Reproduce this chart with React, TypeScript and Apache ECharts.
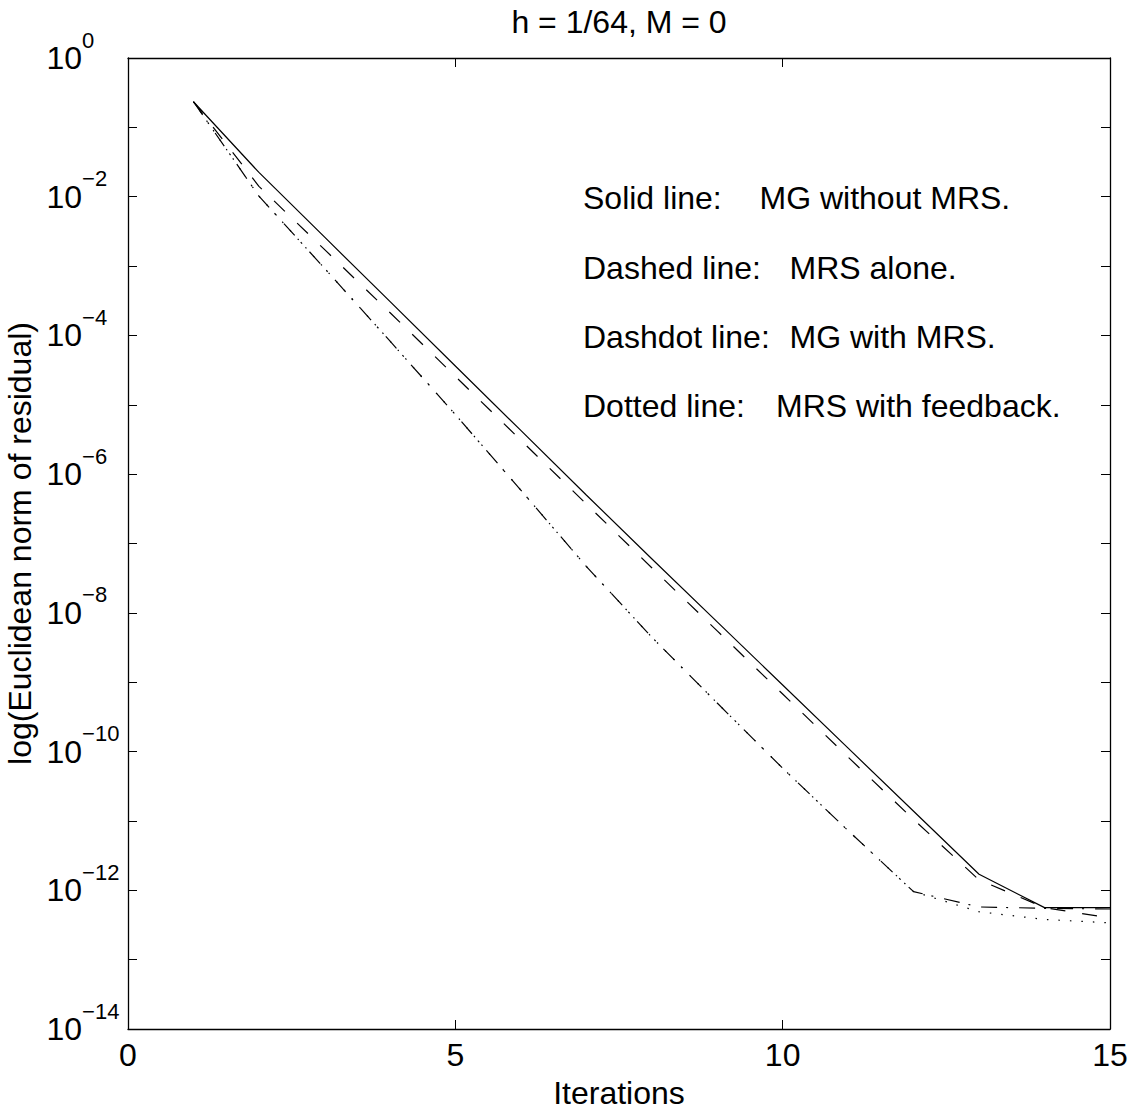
import React, { useEffect, useRef } from "react";
import * as echarts from "echarts";

// ---- Data ----
const iterations = [1, 2, 3, 4, 5, 6, 7, 8, 9, 10, 11, 12, 13, 14, 15];

// Solid line: MG without MRS.
const solidMG = [
  0.234, 2.24e-2, 2.63e-3, 3.09e-4, 3.63e-5, 4.27e-6, 5.01e-7, 6.03e-8,
  7.41e-9, 9.12e-10, 1.12e-10, 1.38e-11, 1.7e-12, 5.62e-13, 5.62e-13,
];
// Dashed line: MRS alone.
const dashedMRS = [
  0.234, 1.41e-2, 1.74e-3, 2.14e-4, 2.57e-5, 3.09e-6, 3.72e-7, 4.47e-8,
  5.5e-9, 6.76e-10, 8.32e-11, 1.05e-11, 1.41e-12, 5.62e-13, 3.98e-13,
];
// Dashdot line: MG with MRS.
const dashdotMGMRS = [
  0.234, 1.02e-2, 9.33e-4, 8.32e-5, 7.24e-6, 5.89e-7, 4.68e-8, 4.47e-9,
  5.01e-10, 5.75e-11, 7.24e-12, 9.55e-13, 5.75e-13, 5.5e-13, 5.37e-13,
];
// Dotted line: MRS with feedback.
const dottedFeedback = [
  0.234, 1.02e-2, 9.33e-4, 8.32e-5, 7.24e-6, 5.89e-7, 4.68e-8, 4.47e-9,
  5.01e-10, 5.75e-11, 7.24e-12, 9.55e-13, 4.9e-13, 3.8e-13, 3.39e-13,
];

const titleText = "h = 1/64, M = 0";
const xAxisName = "Iterations";
const yAxisName = "log(Euclidean norm of residual)";
const legendLabels = ["Solid line:", "Dashed line:", "Dashdot line:", "Dotted line:"];
const legendDescriptions = ["MG without MRS.", "MRS alone.", "MG with MRS.", "MRS with feedback."];

const FONT = '"Liberation Sans", Arial, Helvetica, sans-serif';
const FS = 32;
const SUP = 22;

const pairs = (ys: number[]) => iterations.map((x, i) => [x, ys[i]]);

export default function App() {
  const ref = useRef<HTMLDivElement>(null);

  useEffect(() => {
    if (!ref.current) return;
    const chart = echarts.init(ref.current, null, { renderer: "svg" });

    const gridLeft = 128;
    const gridTop = 58;
    const gridRight = 1110;
    const gridBottom = 1029;

    const axisLineStyle = { color: "#000", width: 1.3 };
    const tickStyle = { color: "#000", width: 1 };

    const legendRowsY = [198, 267.5, 337, 406];
    const legendDescX = [759.5, 789.5, 789.5, 776];

    const graphic: any[] = [];
    legendLabels.forEach((lab, i) => {
      graphic.push({
        type: "text",
        x: 583,
        y: legendRowsY[i],
        silent: true,
        style: {
          text: lab,
          fontSize: FS,
          fontFamily: FONT,
          fill: "#000",
          verticalAlign: "middle",
          align: "left",
        },
      });
      graphic.push({
        type: "text",
        x: legendDescX[i],
        y: legendRowsY[i],
        silent: true,
        style: {
          text: legendDescriptions[i],
          fontSize: FS,
          fontFamily: FONT,
          fill: "#000",
          verticalAlign: "middle",
          align: "left",
        },
      });
    });

    const lineSeries = (name: string, ys: number[], type: any) => ({
      name,
      type: "line",
      data: pairs(ys),
      symbol: "none",
      showSymbol: false,
      silent: true,
      xAxisIndex: 0,
      yAxisIndex: 0,
      lineStyle: { color: "#000", width: 1.2, type },
      z: 3,
    });

    const option: any = {
      animation: false,
      backgroundColor: "#fff",
      title: {
        text: titleText,
        left: (gridLeft + gridRight) / 2,
        textAlign: "center",
        top: 6,
        padding: 0,
        textStyle: { fontSize: FS, fontWeight: "normal", fontFamily: FONT, color: "#000" },
      },
      grid: {
        left: gridLeft,
        top: gridTop,
        right: 1136 - gridRight,
        bottom: 1110 - gridBottom,
        containLabel: false,
        outerBoundsMode: "none",
      },
      xAxis: [
        {
          type: "value",
          position: "bottom",
          min: 0,
          max: 15,
          interval: 5,
          name: xAxisName,
          nameLocation: "middle",
          nameGap: 48,
          nameTextStyle: { fontSize: FS, fontFamily: FONT, color: "#000" },
          axisLine: { show: true, onZero: false, lineStyle: axisLineStyle },
          axisTick: { show: true, inside: true, length: 9, lineStyle: tickStyle },
          axisLabel: {
            show: true,
            margin: 10,
            fontSize: FS,
            fontFamily: FONT,
            color: "#000",
            showMinLabel: true,
            showMaxLabel: true,
          },
          splitLine: { show: false },
        },
        {
          type: "value",
          position: "top",
          min: 0,
          max: 15,
          interval: 5,
          axisLine: { show: true, onZero: false, lineStyle: axisLineStyle },
          axisTick: { show: true, inside: true, length: 9, lineStyle: tickStyle },
          axisLabel: { show: false },
          splitLine: { show: false },
        },
      ],
      yAxis: [
        {
          type: "log",
          logBase: 10,
          position: "left",
          min: 1e-14,
          max: 1,
          interval: 1,
          splitNumber: 14,
          name: yAxisName,
          nameLocation: "middle",
          nameRotate: 90,
          nameGap: 86,
          nameTextStyle: { fontSize: FS, fontFamily: FONT, color: "#000" },
          axisLine: { show: true, onZero: false, lineStyle: axisLineStyle },
          axisTick: { show: true, inside: true, length: 9, lineStyle: tickStyle },
          minorTick: { show: false },
          splitLine: { show: false },
          axisLabel: {
            show: true,
            margin: 81.5,
            align: "left",
            showMinLabel: true,
            showMaxLabel: true,
            formatter: (v: number) => {
              const e = Math.round(Math.log10(v));
              if (e % 2 !== 0) return "";
              const exp = e === 0 ? "0" : "\u2212" + String(-e);
              return `{b|10}{s|${exp}}`;
            },
            rich: {
              b: {
                fontSize: FS,
                fontFamily: FONT,
                color: "#000",
                lineHeight: FS,
                verticalAlign: "middle",
              },
              s: {
                fontSize: SUP,
                fontFamily: FONT,
                color: "#000",
                lineHeight: SUP,
                padding: [0, 0, SUP + 14, 0],
                verticalAlign: "middle",
              },
            },
          },
        },
        {
          type: "log",
          logBase: 10,
          position: "right",
          min: 1e-14,
          max: 1,
          interval: 1,
          splitNumber: 14,
          axisLine: { show: true, onZero: false, lineStyle: axisLineStyle },
          axisTick: { show: true, inside: true, length: 9, lineStyle: tickStyle },
          minorTick: { show: false },
          splitLine: { show: false },
          axisLabel: { show: false },
        },
      ],
      series: [
        lineSeries("Solid", solidMG, "solid"),
        lineSeries("Dashed", dashedMRS, [15, 17]),
        lineSeries("Dashdot", dashdotMGMRS, [16, 9, 2, 11]),
        lineSeries("Dotted", dottedFeedback, [1.5, 10]),
      ],
      graphic,
    };

    chart.setOption(option);
    return () => {
      chart.dispose();
    };
  }, []);

  return (
    <div
      ref={ref}
      style={{ position: "fixed", left: 0, top: 0, width: "1136px", height: "1110px", background: "#fff" }}
    />
  );
}
